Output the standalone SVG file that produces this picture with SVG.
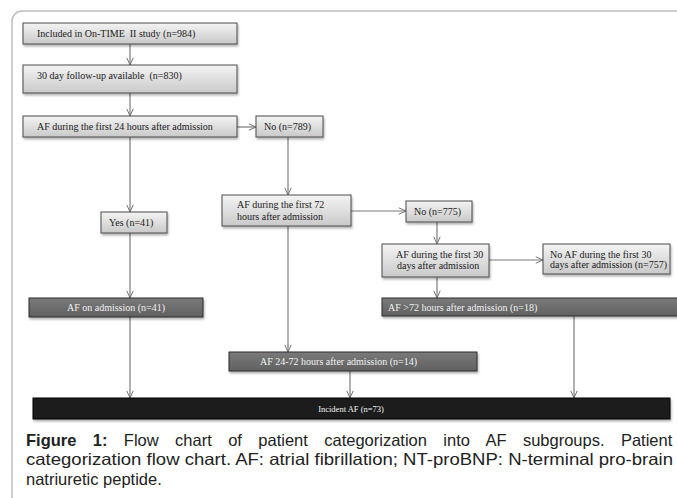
<svg xmlns="http://www.w3.org/2000/svg" width="677" height="498" viewBox="0 0 677 498">
<defs>
<linearGradient id="gl" x1="0" y1="0" x2="0" y2="1"><stop offset="0" stop-color="#f4f4f4"/><stop offset="1" stop-color="#c9c9c9"/></linearGradient>
<linearGradient id="gd" x1="0" y1="0" x2="0" y2="1"><stop offset="0" stop-color="#7a7a7a"/><stop offset="1" stop-color="#606060"/></linearGradient>
<filter id="sh" x="-5%" y="-20%" width="110%" height="150%"><feDropShadow dx="1" dy="2" stdDeviation="1.2" flood-color="#000" flood-opacity="0.3"/></filter>
<marker id="ah" viewBox="0 0 10 10" refX="10" refY="5" markerWidth="8" markerHeight="8" orient="auto" markerUnits="userSpaceOnUse"><path d="M1,1 L10,5 L1,9" fill="none" stroke="#6e6e6e" stroke-width="1.2"/></marker>
</defs>
<style>
.lb{fill:url(#gl);stroke:#4a4a4a;stroke-width:1;filter:url(#sh)}
.db{fill:url(#gd);stroke:#2e2e2e;stroke-width:1;filter:url(#sh)}
.bb{fill:#1c1c1c;stroke:#000;stroke-width:1;filter:url(#sh)}
.t{font-family:"Liberation Serif",serif;font-size:10px;fill:#222}
.tw{font-family:"Liberation Serif",serif;font-size:10px;fill:#f2f2f2}
.ts{font-family:"Liberation Serif",serif;font-size:8.5px;fill:#f2f2f2}
.c{stroke:#7a7a7a;stroke-width:1.2;fill:none;marker-end:url(#ah)}
.cap{font-family:"Liberation Sans",Arial,sans-serif;font-size:16.5px;fill:#222}
</style>
<rect width="677" height="498" fill="#fff"/>
<rect x="12" y="11" width="700" height="520" rx="10" fill="none" stroke="#bdbdbd" stroke-width="1.5"/>

<g id="connectors">
<line class="c" x1="130" y1="44" x2="130" y2="65"/>
<line class="c" x1="130" y1="93" x2="130" y2="116"/>
<line class="c" x1="237" y1="127" x2="256" y2="127"/>
<line class="c" x1="130" y1="137" x2="130" y2="212"/>
<line class="c" x1="288" y1="137" x2="288" y2="195"/>
<line class="c" x1="130" y1="233" x2="130" y2="298"/>
<line class="c" x1="351" y1="211" x2="406" y2="211"/>
<line class="c" x1="437" y1="222" x2="437" y2="244"/>
<line class="c" x1="489" y1="260" x2="543" y2="260"/>
<line class="c" x1="437" y1="277" x2="437" y2="298"/>
<line class="c" x1="288" y1="226" x2="288" y2="352"/>
<line class="c" x1="130" y1="317" x2="130" y2="398"/>
<line class="c" x1="350" y1="371" x2="350" y2="398"/>
<line class="c" x1="574" y1="316" x2="574" y2="398"/>
</g>

<g id="n1"><rect class="lb" x="23" y="23" width="214" height="21"/><text class="t" x="37" y="37">Included in On-TIME&#160; II study (n=984)</text></g>
<g id="n2"><rect class="lb" x="23" y="65" width="214" height="28"/><text class="t" x="37" y="79">30 day follow-up available&#160; (n=830)</text></g>
<g id="n3"><rect class="lb" x="23" y="116" width="214" height="21"/><text class="t" x="37" y="130">AF during the first 24 hours after admission</text></g>
<g id="n4"><rect class="lb" x="256" y="116" width="67" height="21"/><text class="t" x="264" y="130">No (n=789)</text></g>
<g id="n5"><rect class="lb" x="101" y="212" width="66" height="21"/><text class="t" x="109" y="226">Yes (n=41)</text></g>
<g id="n6"><rect class="lb" x="222" y="195" width="129" height="31"/><text class="t" x="237" y="208">AF during the first 72</text><text class="t" x="237" y="219.5">hours after admission</text></g>
<g id="n7"><rect class="lb" x="406" y="201" width="66" height="21"/><text class="t" x="414" y="215">No (n=775)</text></g>
<g id="n8"><rect class="lb" x="382" y="244" width="107" height="33"/><text class="t" x="396" y="257.5">AF during the first 30</text><text class="t" x="397" y="268.5">days after admission</text></g>
<g id="n9"><rect class="lb" x="543" y="244" width="127" height="30"/><text class="t" x="550" y="257.5">No AF during the first 30</text><text class="t" x="550" y="268">days after admission (n=757)</text></g>
<g id="n10"><rect class="db" x="29" y="298" width="174" height="19"/><text class="tw" x="116" y="311" text-anchor="middle">AF on admission (n=41)</text></g>
<g id="n11"><rect class="db" x="382" y="298" width="310" height="18"/><text class="tw" x="388" y="311">AF &gt;72 hours after admission (n=18)</text></g>
<g id="n12"><rect class="db" x="229" y="352" width="248" height="19"/><text class="tw" x="260" y="365">AF 24-72 hours after admission (n=14)</text></g>
<g id="n13"><rect class="bb" x="33" y="398" width="637" height="21"/><text class="ts" x="351" y="412" text-anchor="middle">Incident AF (n=73)</text></g>

<g id="caption">
<text class="cap" x="26" y="446" word-spacing="11.8"><tspan font-weight="bold">Figure 1:</tspan> Flow chart of patient categorization into AF subgroups. Patient</text>
<text class="cap" x="26" y="465" textLength="647" lengthAdjust="spacingAndGlyphs">categorization flow chart. AF: atrial fibrillation; NT-proBNP: N-terminal pro-brain</text>
<text class="cap" x="26" y="485">natriuretic peptide.</text>
</g>
</svg>
